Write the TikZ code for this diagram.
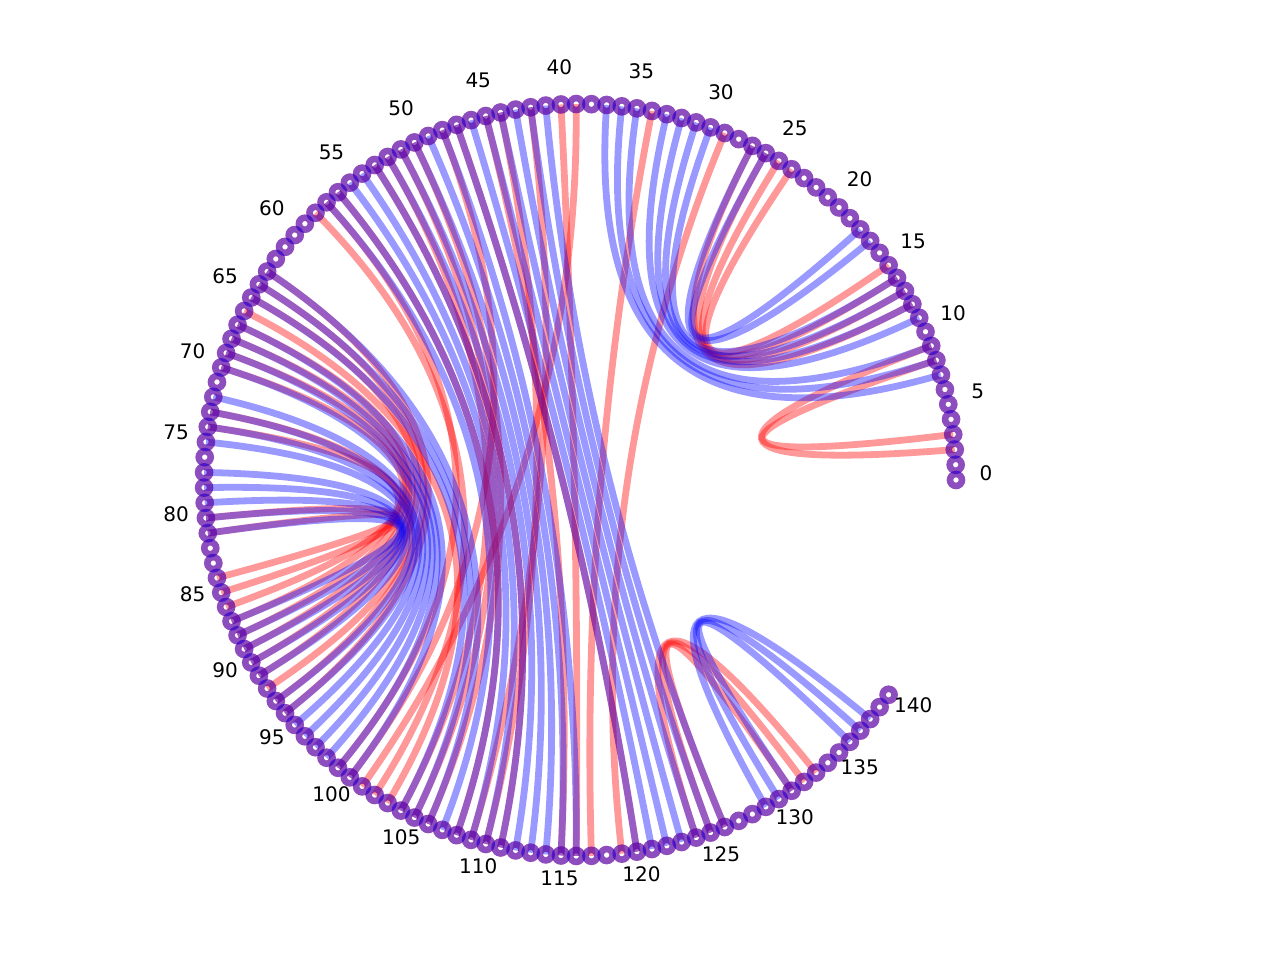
\documentclass[tikz,border=0pt]{standalone}
\usepackage{fontspec}
\setmainfont{DejaVu Sans}
\usetikzlibrary{calc}
\definecolor{pairred}{HTML}{FF0000}
\definecolor{pairblue}{HTML}{0000FF}

\begin{document}
\begin{tikzpicture}[x=0.2mm,y=-0.2mm,
    redarc/.style={pairred,opacity=0.4,line width=1.36mm},
    bluearc/.style={pairblue,opacity=0.4,line width=1.36mm},
    redring/.style={pairred,opacity=0.45,line width=1.3mm},
    bluering/.style={pairblue,opacity=0.45,line width=1.3mm},
    lbl/.style={font=\fontsize{11.4}{13.7}\selectfont,inner sep=0pt}]
  \useasboundingbox (0,0) rectangle (1280,960);
  \coordinate (c) at (580,480);
  \foreach \i in {0,...,140} \coordinate (n\i) at ({580+376*cos(\i*2.32258)},{480-376*sin(\i*2.32258)});
  % first structure
  \foreach \a/\b in {2/9,3/8,12/27,13/26,14/25,15/24,
      124/133,125/132,126/131,
      81/84,80/85,74/86,73/92,70/87,69/88,68/89,67/90,65/91,64/93,63/94,
      29/119,34/117,39/101,40/116,45/115,58/102,66/103,56/108,53/111,47/120,
      57/99,52/104,51/105,50/106,44/110,42/109,48/100}
    \draw[redarc] (n\a) .. controls ($(n\a)!2/3!(c)$) and ($(n\b)!2/3!(c)$) .. (n\b);
  % second structure
  \foreach \a/\b in {7/37,8/36,9/35,11/33,12/32,13/31,14/30,17/27,18/26,
      41/126,42/125,43/124,44/123,45/122,46/121,47/120,48/116,49/115,50/114,51/113,52/112,53/111,54/110,55/109,56/108,57/107,
      63/106,64/105,65/104,67/100,68/99,69/98,70/97,72/96,73/95,74/94,75/93,77/91,78/90,79/89,80/88,81/87,
      129/138,130/137,131/136}
    \draw[bluearc] (n\a) .. controls ($(n\a)!2/3!(c)$) and ($(n\b)!2/3!(c)$) .. (n\b);
  % bases
  \foreach \i in {0,...,140} \draw[redring] (n\i) circle (1.2mm);
  \foreach \i in {0,...,140} \draw[bluering] (n\i) circle (1.2mm);
  \foreach \i in {0,5,...,140}
    \node[lbl] (l\i) at ({580+406*cos(\i*2.32258)},{473-406*sin(\i*2.32258)}) {\i};
\end{tikzpicture}
\end{document}
